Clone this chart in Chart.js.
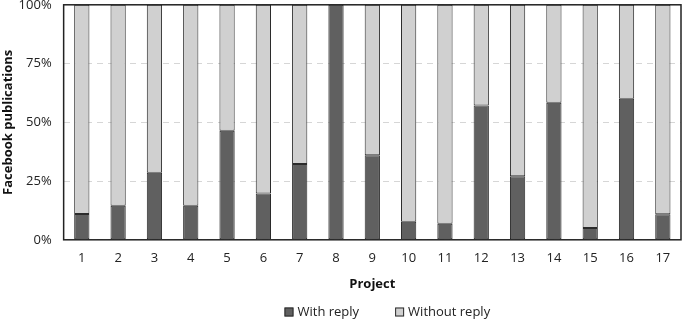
<!DOCTYPE html>
<html>
<head>
<meta charset="utf-8">
<script src="https://cdn.jsdelivr.net/npm/chart.js@4/dist/chart.umd.min.js"></script>
<style>
  body { margin: 0; background: #fff; }
  #wrap { width: 692px; height: 319px; overflow: hidden; position: relative; }
  #inner { position: absolute; left: 0; top: -15px; width: 692px; height: 334px; }
</style>
</head>
<body>
<div id="wrap"><div id="inner"><canvas id="myChart"></canvas></div></div>
<script>
const projects = ['1','2','3','4','5','6','7','8','9','10','11','12','13','14','15','16','17']
const withReply = [11, 14.5, 28.5, 14.5, 46.4, 19.7, 32.3, 100, 36, 7.7, 6.8, 57.1, 27, 58.3, 5, 60, 10.9]
const withoutReply = withReply.map(v => 100 - v)
const yTicks = ['0%', '25%', '50%', '75%', '100%']

const font = "'Open Sans', sans-serif"

// black frame round the plot area
const frame = {
  id: 'frame',
  afterDatasetsDraw(chart) {
    const a = chart.chartArea
    const ctx = chart.ctx
    ctx.save()
    ctx.strokeStyle = '#222'
    ctx.lineWidth = 1.5
    ctx.strokeRect(a.left, a.top, a.right - a.left, a.bottom - a.top)
    ctx.restore()
  }
}

// legend at the bottom, drawn by hand so the spacing matches
const bottomLegend = {
  id: 'bottomLegend',
  afterDraw(chart) {
    const ctx = chart.ctx
    const a = chart.chartArea
    const sets = chart.data.datasets
    ctx.save()
    ctx.font = '13px ' + font
    ctx.textBaseline = 'middle'
    const box = 9, gapBox = 4, gapItem = 36
    const widths = sets.map(d => box + gapBox + ctx.measureText(d.label).width)
    const total = widths.reduce((s, w) => s + w, 0) + gapItem * (sets.length - 1)
    let x = (a.left + a.right) / 2 + 15 - total / 2
    const y = chart.height - 7
    sets.forEach((d, i) => {
      ctx.fillStyle = d.backgroundColor
      ctx.fillRect(x, y - box / 2, box, box)
      ctx.strokeStyle = '#2b2b2b'
      ctx.lineWidth = 1
      ctx.strokeRect(x + 0.5, y - box / 2 + 0.5, box - 1, box - 1)
      ctx.fillStyle = '#222'
      ctx.fillText(d.label, x + box + gapBox, y)
      x += widths[i] + gapItem
    })
    ctx.restore()
  }
}

new Chart(document.getElementById('myChart'), {
  type: 'bar',
  data: {
    labels: projects,
    datasets: [{
      label: 'With reply',
      data: withReply,
      backgroundColor: '#606060',
      borderColor: '#2b2b2b',
      borderWidth: 1,
      borderSkipped: false,
      barPercentage: 0.42,
      categoryPercentage: 1
    }, {
      label: 'Without reply',
      data: withoutReply,
      backgroundColor: '#d0d0d0',
      borderColor: '#2b2b2b',
      borderWidth: 1,
      borderSkipped: false,
      barPercentage: 0.42,
      categoryPercentage: 1
    }]
  },
  options: {
    responsive: true,
    maintainAspectRatio: false,
    animation: false,
    layout: { padding: { top: 0, right: 11, left: 0, bottom: 27 } },
    plugins: {
      tooltip: { enabled: false },
      legend: { display: false }
    },
    scales: {
      x: {
        stacked: true,
        grid: { display: false, drawTicks: false },
        border: { display: false },
        ticks: { color: '#222', font: { family: font, size: 13 }, padding: 11 },
        title: { display: true, text: 'Project', color: '#111', font: { family: font, size: 13, weight: 'bold' }, padding: { top: -1, bottom: 0 } }
      },
      y: {
        stacked: true,
        min: 0,
        max: 100,
        grid: { color: '#d6d6d6', drawTicks: false, lineWidth: 1 },
        border: { display: true, color: 'rgba(0,0,0,0)', dash: [6, 5] },
        ticks: {
          stepSize: 25,
          color: '#222',
          font: { family: font, size: 13 },
          padding: 12,
          callback: (v, i) => yTicks[i]
        },
        title: { display: true, text: 'Facebook publications', color: '#111', font: { family: font, size: 13, weight: 'bold' }, padding: { top: 0, bottom: -9 } }
      }
    }
  },
  plugins: [frame, bottomLegend]
})
</script>
</body>
</html>
